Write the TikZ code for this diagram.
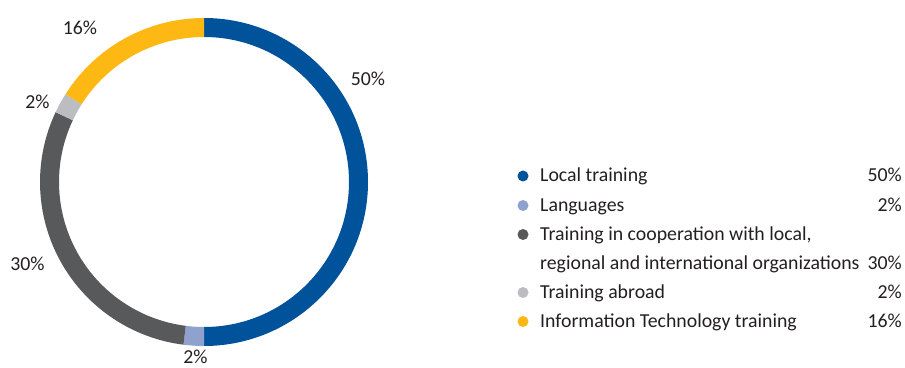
\documentclass[tikz,border=0pt]{standalone}
\usepackage{fontspec}
\setmainfont{Carlito}
\usepackage{xcolor}
\definecolor{localblue}{HTML}{00529B}
\definecolor{langblue}{HTML}{8FA2CE}
\definecolor{coopgray}{HTML}{58595B}
\definecolor{abroadgray}{HTML}{BCBDC0}
\definecolor{ityellow}{HTML}{FDB813}
\definecolor{txt}{HTML}{231F20}
\usetikzlibrary{positioning}

\begin{document}
\begin{tikzpicture}[x=1pt, y=1pt, font=\fontsize{19.8}{22}\selectfont, text=txt,
			lbl/.style={inner sep=0pt, anchor=base},
			dot/.style={circle, inner sep=0pt, minimum size=11pt},
			entry/.style={inner sep=0pt, anchor=base west},
			pct/.style={inner sep=0pt, anchor=base east}]
		\useasboundingbox (0, 0) rectangle (905, 367);

		% ring
		\begin{scope}[shift={(204, 185)}]
			\foreach \a/\b/\c in {90/-90/localblue, -90/-97.2/langblue,
					-97.2/-205.2/coopgray, -205.2/-212.4/abroadgray, -212.4/-270/ityellow}
				\fill[\c] (\a:164) arc (\a:\b:164) -- (\b:145) arc (\b:\a:145) -- cycle;
		\end{scope}

		% ring labels
		\node[lbl] (l50) at (368, 281.3) {50\%};
		\node[lbl] (l16) at (80, 332.7) {16\%};
		\node[lbl] (l2a) at (37.5, 258.7) {2\%};
		\node[lbl] (l30) at (27.5, 96.3) {30\%};
		\node[lbl] (l2b) at (195.5, 3.5) {2\%};

		% legend
		\node[dot, fill=localblue] (d1) at (523, 191) {};
		\node[dot, fill=langblue] (d2) at (523, 161.5) {};
		\node[dot, fill=coopgray] (d3) at (523, 132.5) {};
		\node[dot, fill=abroadgray] (d4) at (523, 74.5) {};
		\node[dot, fill=ityellow] (d5) at (523, 45.5) {};

		\node[entry] (t1) at (540, 185) {Local training};
		\node[entry] (t2) at (540, 155.5) {Languages};
		\node[entry] (t3) at (540, 126.5) {Training in cooperation with local,};
		\node[entry] (t3b) at (540, 97.5) {regional and international organizations};
		\node[entry] (t4) at (540, 68.5) {Training abroad};
		\node[entry] (t5) at (540, 39.5) {Information Technology training};

		\node[pct] (p1) at (902, 185) {50\%};
		\node[pct] (p2) at (902, 155.5) {2\%};
		\node[pct] (p3) at (902, 97.5) {30\%};
		\node[pct] (p4) at (902, 68.5) {2\%};
		\node[pct] (p5) at (902, 39.5) {16\%};
	\end{tikzpicture}
\end{document}
